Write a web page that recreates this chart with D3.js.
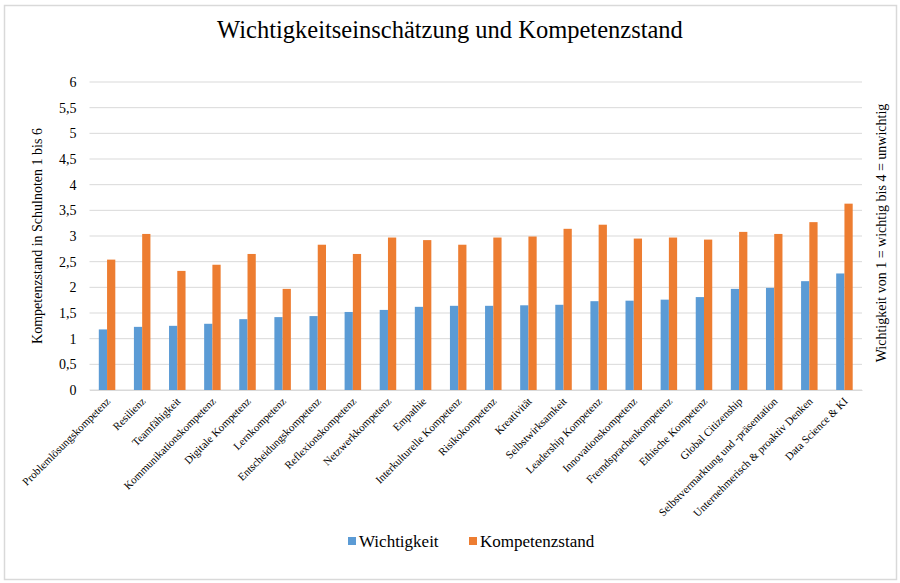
<!DOCTYPE html>
<html>
<head>
<meta charset="utf-8">
<script src="https://cdn.jsdelivr.net/npm/d3@7"></script>
<style>
  body { margin: 0; background: #fff; }
</style>
</head>
<body>
<div id="chart"></div>
<script>
// data
var categories = ["Problemlösungskompetenz", "Resilienz", "Teamfähigkeit", "Kommunikationskompetenz",
  "Digitale Kompetenz", "Lernkompetenz", "Entscheidungskompetenz", "Reflexionskompetenz",
  "Netzwerkkompetenz", "Empathie", "Interkulturelle Kompetenz", "Risikokompetenz", "Kreativität",
  "Selbstwirksamkeit", "Leadership Kompetenz", "Innovationskompetenz", "Fremdsprachenkompetenz",
  "Ethische Kompetenz", "Global Citizenship", "Selbstvermarktung und -präsentation",
  "Unternehmerisch & proaktiv Denken", "Data Science & KI"];
var wichtigkeit = [1.18, 1.23, 1.25, 1.29, 1.38, 1.42, 1.44, 1.52, 1.56, 1.62, 1.64,
  1.64, 1.65, 1.66, 1.73, 1.74, 1.76, 1.81, 1.97, 1.99, 2.12, 2.27];
var kompetenz = [2.54, 3.04, 2.32, 2.44, 2.65, 1.97, 2.83, 2.65, 2.97, 2.92, 2.83,
  2.97, 2.99, 3.14, 3.22, 2.95, 2.97, 2.93, 3.08, 3.04, 3.27, 3.63];
var yTicks = [0, 0.5, 1, 1.5, 2, 2.5, 3, 3.5, 4, 4.5, 5, 5.5, 6];
var seriesNames = ["Wichtigkeit", "Kompetenzstand"];
var colors = ["#5B9BD5", "#ED7D31"];

var serif = "'Liberation Serif', 'Times New Roman', serif";

var svgWidth = 900, svgHeight = 583;
var margin = { top: 82, right: 38, bottom: 193, left: 89.5 };
var width = svgWidth - margin.left - margin.right;
var height = svgHeight - margin.top - margin.bottom;

var svg = d3.select("#chart").append("svg")
  .attr("width", svgWidth)
  .attr("height", svgHeight);

// outer frame
svg.append("rect")
  .attr("x", 4.5).attr("y", 5.5)
  .attr("width", 892).attr("height", 574)
  .attr("fill", "none")
  .attr("stroke", "#d9d9d9")
  .attr("stroke-width", 1.5);

var chartGroup = svg.append("g")
  .attr("transform", `translate(${margin.left}, ${margin.top})`);

var x = d3.scaleBand().domain(categories).range([0, width]).padding(0);
var y = d3.scaleLinear().domain([0, 6]).range([height, 0]);
var barW = x.bandwidth() * 0.235;

// gridlines
chartGroup.append("g")
  .selectAll("line")
  .data(yTicks)
  .enter().append("line")
  .attr("x1", 0).attr("x2", width)
  .attr("y1", d => y(d)).attr("y2", d => y(d))
  .attr("stroke", "#d9d9d9")
  .attr("stroke-width", 1);

// left axis labels
var leftAxis = d3.axisLeft(y).tickValues(yTicks).tickSize(0).tickPadding(13)
  .tickFormat(d => String(d).replace(".", ","));
chartGroup.append("g")
  .call(leftAxis)
  .call(g => g.select(".domain").remove())
  .selectAll("text")
  .style("font-size", "14px")
  .style("font-family", serif)
  .attr("fill", "#000");

// bars
var series = [wichtigkeit, kompetenz];
series.forEach(function(vals, i) {
  chartGroup.append("g")
    .selectAll("rect")
    .data(vals)
    .enter().append("rect")
    .attr("x", (d, j) => x(categories[j]) + x.bandwidth() / 2 + (i - 1) * barW)
    .attr("y", d => y(d))
    .attr("width", barW)
    .attr("height", d => height - y(d))
    .attr("fill", colors[i]);
});

// x labels
var bottomAxis = d3.axisBottom(x).tickSize(0).tickPadding(0);
chartGroup.append("g")
  .attr("transform", `translate(0, ${height})`)
  .call(bottomAxis)
  .call(g => g.select(".domain").attr("stroke", "#d9d9d9"))
  .selectAll("text")
  .style("font-size", "11px")
  .style("font-family", serif)
  .attr("fill", "#000")
  .attr("text-anchor", "end")
  .attr("dy", "0")
  .attr("transform", "translate(4, 12) rotate(-45)");

// title
svg.append("text")
  .attr("x", 450).attr("y", 38)
  .attr("text-anchor", "middle")
  .style("font-family", serif)
  .style("font-size", "24.5px")
  .text("Wichtigkeitseinschätzung und Kompetenzstand");

// axis titles
svg.append("text")
  .attr("transform", `translate(42, ${margin.top + height / 2}) rotate(-90)`)
  .attr("text-anchor", "middle")
  .style("font-family", serif)
  .style("font-size", "14px")
  .text("Kompetenzstand in Schulnoten 1 bis 6");

svg.append("text")
  .attr("transform", `translate(886, ${margin.top + height / 2 - 3}) rotate(-90)`)
  .attr("text-anchor", "middle")
  .style("font-family", serif)
  .style("font-size", "14px")
  .text("Wichtigkeit von 1 = wichtig bis 4 = unwichtig");

// legend
var legendX = [348, 469];
var legend = svg.append("g");
seriesNames.forEach(function(name, i) {
  legend.append("rect")
    .attr("x", legendX[i]).attr("y", 537)
    .attr("width", 8).attr("height", 8)
    .attr("fill", colors[i]);
  legend.append("text")
    .attr("x", legendX[i] + 11).attr("y", 547)
    .style("font-family", serif)
    .style("font-size", "17px")
    .text(name);
});
</script>
</body>
</html>
